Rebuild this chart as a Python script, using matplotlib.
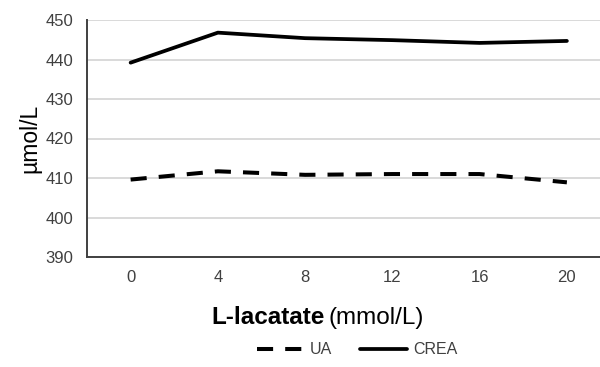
import matplotlib
matplotlib.use("Agg")
import matplotlib.pyplot as plt

# L-lactate concentrations (mmol/L) and measured analytes (µmol/L)
lactate = ["0", "4", "8", "12", "16", "20"]
ua = [409.6, 411.7, 410.8, 411.0, 411.0, 408.9]
crea = [439.2, 446.8, 445.4, 444.9, 444.2, 444.7]
y_ticks = [390, 400, 410, 420, 430, 440, 450]

plt.rcParams["font.family"] = ["Liberation Sans", "DejaVu Sans"]
text_col = "#404040"

fig = plt.figure(figsize=(6.0, 3.67), dpi=100)
ax = fig.add_axes([87 / 600, 1 - 257 / 367, (610.5 - 87) / 600, (257 - 20) / 367])

x = list(range(len(lactate)))
ax.plot(x, ua, color="black", lw=2.9, dashes=(4.0, 3.0), label="UA")
ax.plot(x, crea, color="black", lw=2.7, label="CREA", solid_capstyle="round")

ax.set_xlim(-0.5, len(lactate) - 0.5)
ax.set_ylim(390, 450)
ax.set_xticks(x)
ax.set_xticklabels(lactate)
ax.set_yticks(y_ticks)
ax.tick_params(axis="both", length=0, labelsize=12, colors=text_col)
ax.tick_params(axis="x", pad=9)
ax.tick_params(axis="y", pad=10)

ax.grid(axis="y", color="#d9d9d9", lw=1.4)
ax.set_axisbelow(True)
for side in ("top", "right"):
    ax.spines[side].set_visible(False)
for side in ("left", "bottom"):
    ax.spines[side].set_color(text_col)
    ax.spines[side].set_linewidth(1.4)

ax.set_ylabel("µmol/L", fontsize=16.5, color="black", labelpad=3)

# x-axis title with bold variable name and regular unit
t1 = fig.text(211 / 600, 1 - 318 / 367, "L-lacatate", fontsize=17.5, fontweight="bold",
              ha="left", va="center")
fig.canvas.draw()
bb = t1.get_window_extent()
fig.text(bb.x1 / 600 + 0.007, 1 - 318 / 367, "(mmol/L)", fontsize=17.5,
         ha="left", va="center")

fig.legend(loc="center", bbox_to_anchor=(357 / 600, 1 - 350 / 367), ncol=2,
           frameon=False, fontsize=11.5, handlelength=2.9, handletextpad=0.4,
           columnspacing=1.8, labelcolor=text_col)

fig.savefig("out.png", dpi=100)
